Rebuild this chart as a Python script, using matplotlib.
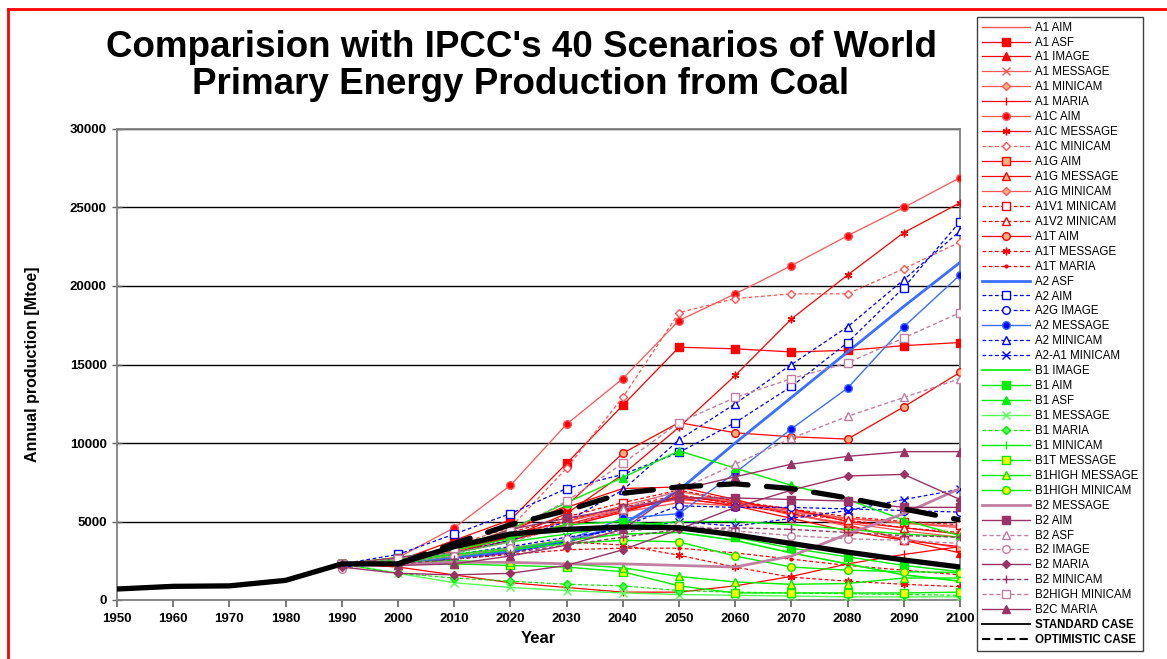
import numpy as np
import matplotlib.pyplot as plt
from matplotlib.lines import Line2D

plt.rcParams['font.family'] = ['Liberation Sans', 'DejaVu Sans']

# historical / model cases (Mtoe)
years_hist = [1950, 1960, 1970, 1980, 1990, 2000, 2010, 2020, 2030, 2040, 2050,
              2060, 2070, 2080, 2090, 2100]
standard_case = [700, 870, 900, 1250, 2300, 2300, 3400, 4200, 4500, 4650, 4600,
                 4150, 3600, 3050, 2550, 2100]
years_opt = [2000, 2010, 2020, 2030, 2040, 2050, 2060, 2070, 2080, 2090, 2100]
optimistic_case = [2300, 3600, 4800, 5700, 6800, 7200, 7400, 7100, 6500, 5800, 5100]

# IPCC SRES scenarios, 1990..2100
years_scen = [1990, 2000, 2010, 2020, 2030, 2040, 2050, 2060, 2070, 2080, 2090, 2100]

a1_names = ["A1 AIM", "A1 ASF", "A1 IMAGE", "A1 MESSAGE", "A1 MINICAM", "A1 MARIA",
            "A1C AIM", "A1C MESSAGE", "A1C MINICAM", "A1G AIM", "A1G MESSAGE",
            "A1G MINICAM", "A1V1 MINICAM", "A1V2 MINICAM", "A1T AIM",
            "A1T MESSAGE", "A1T MARIA"]
a1_values = [
    [2300, 2500, 3000, 3800, 4700, 5600, 6200, 6000, 5600, 5200, 4900, 4700],
    [2300, 2500, 3800, 5100, 8700, 12400, 16100, 16000, 15800, 15900, 16200, 16400],
    [2300, 2600, 3300, 4400, 5900, 7100, 7200, 6400, 5500, 4800, 3800, 3000],
    [2300, 2500, 3100, 4000, 4800, 5800, 6400, 6100, 5700, 5200, 4900, 4600],
    [2300, 2600, 3300, 4200, 5000, 5800, 6600, 6300, 5500, 4700, 3900, 3300],
    [2300, 2100, 1600, 1100, 800, 500, 500, 900, 1500, 2300, 2900, 3400],
    [2300, 2700, 4600, 7300, 11200, 14100, 17800, 19500, 21300, 23200, 25000, 26900],
    [2300, 2400, 3000, 4000, 5500, 8000, 11000, 14300, 17900, 20700, 23400, 25300],
    [2300, 2500, 3500, 4600, 8400, 12900, 18300, 19200, 19500, 19500, 21100, 22800],
    [2300, 2600, 3200, 4000, 4800, 5700, 6500, 6000, 5200, 4400, 3800, 3400],
    [2300, 2500, 3000, 3800, 4700, 5600, 6600, 6200, 5800, 5000, 4600, 4200],
    [2300, 2600, 3200, 4100, 5000, 6000, 6900, 6300, 5400, 4900, 4400, 4000],
    [2300, 2600, 3300, 4300, 5300, 6200, 7000, 6300, 5800, 5300, 5000, 4800],
    [2300, 2600, 3200, 4100, 5100, 5900, 6700, 6100, 5500, 5100, 4600, 4300],
    [2300, 2600, 3300, 4500, 6000, 9350, 11300, 10650, 10400, 10250, 12300, 14500],
    [2300, 2400, 2800, 3300, 3700, 3500, 2850, 2100, 1450, 1200, 1000, 850],
    [2300, 2300, 2600, 2900, 3200, 3300, 3300, 3000, 2600, 2200, 1900, 1600],
]

a2_names = ["A2 ASF", "A2 AIM", "A2G IMAGE", "A2 MESSAGE", "A2 MINICAM", "A2-A1 MINICAM"]
a2_values = [
    [2300, 2400, 2700, 3100, 3700, 4800, 7000, 10000, 12900, 15800, 18700, 21500],
    [2300, 2900, 4200, 5500, 7100, 8000, 9400, 11300, 13600, 16400, 19900, 24100],
    [2100, 2300, 2600, 3000, 3700, 4700, 6000, 5900, 5900, 5800, 5700, 5600],
    [2300, 2400, 2700, 3200, 3800, 5200, 5500, 8100, 10900, 13500, 17400, 20700],
    [2300, 2600, 3000, 3800, 5000, 7000, 10200, 12500, 15000, 17400, 20400, 23500],
    [2300, 2500, 2900, 3400, 4000, 4500, 5000, 4700, 5200, 5700, 6400, 7050],
]

b1_names = ["B1 IMAGE", "B1 AIM", "B1 ASF", "B1 MESSAGE", "B1 MARIA", "B1 MINICAM",
            "B1T MESSAGE", "B1HIGH MESSAGE", "B1HIGH MINICAM"]
b1_values = [
    [2300, 2500, 2900, 3300, 3800, 4200, 4300, 3800, 3000, 2300, 1600, 1200],
    [2300, 2700, 3200, 3900, 4800, 5000, 4700, 4000, 3300, 2750, 2200, 1800],
    [2300, 2600, 3200, 4500, 6200, 7800, 9500, 8400, 7300, 6400, 5100, 4100],
    [2300, 1700, 1100, 800, 600, 450, 350, 300, 250, 200, 200, 200],
    [2300, 1700, 1400, 1200, 1000, 900, 600, 500, 450, 400, 350, 300],
    [2300, 2500, 3000, 3700, 4200, 4700, 5000, 5000, 4800, 4500, 4200, 4000],
    [2300, 2400, 2300, 2200, 2100, 1800, 900, 450, 450, 450, 450, 500],
    [2300, 2400, 2500, 2400, 2300, 2050, 1500, 1150, 1000, 1050, 1400, 1400],
    [2300, 2400, 2800, 3200, 3600, 3800, 3700, 2800, 2100, 1900, 1800, 1750],
]

b2_names = ["B2 MESSAGE", "B2 AIM", "B2 ASF", "B2 IMAGE", "B2 MARIA", "B2 MINICAM",
            "B2HIGH MINICAM", "B2C MARIA"]
b2_values = [
    [2300, 2300, 2400, 2400, 2300, 2300, 2200, 2100, 2800, 4200, 5500, 7100],
    [2300, 2700, 3200, 4500, 5200, 5850, 6500, 6500, 6400, 6300, 5900, 5900],
    [2300, 2500, 3000, 3700, 4700, 5800, 7000, 8650, 10300, 11700, 12900, 14100],
    [2000, 2400, 2800, 3300, 3900, 4300, 4800, 4400, 4100, 3900, 3800, 3600],
    [2100, 1700, 1600, 1700, 2200, 3200, 4500, 5900, 7000, 7900, 8000, 6400],
    [2300, 2300, 2600, 3000, 3500, 4000, 4500, 4600, 4500, 4300, 4100, 4000],
    [2300, 2600, 3300, 4400, 6300, 8700, 11300, 12900, 14100, 15100, 16700, 18300],
    [2300, 2200, 2300, 2800, 3500, 4500, 7000, 7850, 8650, 9150, 9450, 9450],
]

# styles: (line colour, linestyle, marker, marker face, linewidth)
RED, LRED, ORG = '#ff0000', '#ff5555', '#ffb27f'
BLUE, LBLUE = '#0000ff', '#3c6eff'
GREEN, LGREEN, YEL = '#00ee00', '#55ff55', '#ffff00'
MAUVE, LMAUVE = '#993366', '#c07fa0'
ast = (6, 2, 0)
a1_styles = [
    (LRED, '-', None, None, 1.0), (RED, '-', 's', RED, 0.9), (RED, '-', '^', RED, 0.9),
    (LRED, '-', 'x', LRED, 0.9), (LRED, '-', 'D', ORG, 0.9), (RED, '-', '|', RED, 0.9),
    (LRED, '-', 'o', RED, 0.9), (RED, '-', ast, RED, 0.9), (LRED, '--', 'D', 'white', 0.9),
    (RED, '-', 's', ORG, 0.9), (RED, '-', '^', ORG, 0.9), (LRED, '-', 'D', ORG, 0.9),
    (RED, '--', 's', 'white', 0.9), (RED, '--', '^', 'white', 0.9), (RED, '-', 'o', ORG, 0.9),
    (RED, '--', ast, RED, 0.9), (RED, '--', '.', RED, 0.9),
]
a2_styles = [
    (LBLUE, '-', None, None, 2.0), (BLUE, '--', 's', 'white', 0.9),
    (BLUE, '--', 'o', 'white', 0.9), (LBLUE, '-', 'o', BLUE, 1.0),
    (BLUE, '--', '^', 'white', 0.9), (BLUE, '--', 'x', BLUE, 0.9),
]
b1_styles = [
    (GREEN, '-', None, None, 1.2), (GREEN, '-', 's', GREEN, 1.0), (GREEN, '-', '^', GREEN, 1.0),
    (LGREEN, '-', 'x', LGREEN, 1.0), (GREEN, '--', 'D', LGREEN, 0.9), (GREEN, '-', '|', GREEN, 1.0),
    (GREEN, '-', 's', YEL, 1.0), (GREEN, '-', '^', YEL, 1.0), (GREEN, '-', 'o', YEL, 1.0),
]
b2_styles = [
    (LMAUVE, '-', None, None, 2.0), (MAUVE, '-', 's', MAUVE, 1.0), (LMAUVE, '--', '^', 'white', 1.0),
    (LMAUVE, '--', 'o', 'white', 1.0), (MAUVE, '-', 'D', MAUVE, 1.0), (MAUVE, '--', '+', MAUVE, 1.0),
    (LMAUVE, '--', 's', 'white', 1.0), (MAUVE, '-', '^', MAUVE, 1.0),
]

fig = plt.figure(figsize=(11.67, 6.59), dpi=100)
ax = fig.add_axes([117 / 1167, 1 - 600 / 659, 843 / 1167, 471 / 659])

handles, labels = [], []
for names, values, styles in [(a1_names, a1_values, a1_styles), (a2_names, a2_values, a2_styles),
                              (b1_names, b1_values, b1_styles), (b2_names, b2_values, b2_styles)]:
    for name, vals, (c, ls, mk, mfc, lw) in zip(names, values, styles):
        ms = 4 if mk in ('D', '.') else 5.5
        h, = ax.plot(years_scen, vals, color=c, linestyle=ls, lw=lw, marker=mk,
                     markerfacecolor=mfc, markeredgecolor=c, markersize=ms,
                     markeredgewidth=1.0, dashes=(3, 2) if ls == '--' else (None, None), zorder=3)
        handles.append(h)
        labels.append(name)

ax.plot(years_hist, standard_case, color='black', lw=3.8, zorder=5, solid_capstyle='butt')
ax.plot(years_opt, optimistic_case, color='black', lw=3.8, dashes=(5.5, 3.5), zorder=5,
        dash_capstyle='round')
handles.append(Line2D([], [], color='black', lw=1.3))
labels.append("STANDARD CASE")
handles.append(Line2D([], [], color='black', lw=1.5, dashes=(4, 2)))
labels.append("OPTIMISTIC CASE")

ax.set_xlim(1950, 2100)
ax.set_ylim(0, 30000)
ax.set_xticks(np.arange(1950, 2101, 10))
ax.set_yticks(np.arange(0, 30001, 5000))
ax.yaxis.grid(True, color='black', lw=1.0, zorder=0)
ax.set_axisbelow(True)
for s in ax.spines.values():
    s.set_color('#808080')
    s.set_linewidth(1.3)
ax.tick_params(axis='x', direction='out', length=5, width=1.2, color='#606060', labelsize=9.5, pad=4)
ax.tick_params(axis='y', direction='inout', length=7, width=1.0, color='#606060', labelsize=9.5, pad=4)
for lbl in ax.get_xticklabels() + ax.get_yticklabels():
    lbl.set_fontweight('bold')

ax.set_xlabel("Year", fontsize=12, fontweight='bold')
ax.xaxis.set_label_coords(0.5, -0.065)
ax.set_ylabel("Annual production [Mtoe]", fontsize=11.5, fontweight='bold')
ax.yaxis.set_label_coords(-0.091, 0.5)

fig.text(521 / 1167, 1 - 66 / 659,
         "Comparision with IPCC's 40 Scenarios of World\nPrimary Energy Production from Coal",
         ha='center', va='center', fontsize=26.5, fontweight='bold', linespacing=1.05)

leg = fig.legend(handles, labels, loc='upper left', bbox_to_anchor=(977 / 1167, 1 - 17 / 659),
                 fontsize=8.3, handlelength=4.2, labelspacing=0.255, borderpad=0.4,
                 handletextpad=0.4, borderaxespad=0, frameon=True, fancybox=False,
                 edgecolor='#404040', framealpha=1)
leg.get_frame().set_linewidth(1.0)
for t in leg.get_texts()[-2:]:
    t.set_fontweight('bold')

# red frame on top / left edge
fig.add_artist(Line2D([8 / 1167, 8 / 1167], [0, 1 - 9 / 659], transform=fig.transFigure,
                      color='red', lw=2))
fig.add_artist(Line2D([8 / 1167, 1], [1 - 9 / 659, 1 - 9 / 659], transform=fig.transFigure,
                      color='red', lw=2))

fig.savefig("out.png", dpi=100)
